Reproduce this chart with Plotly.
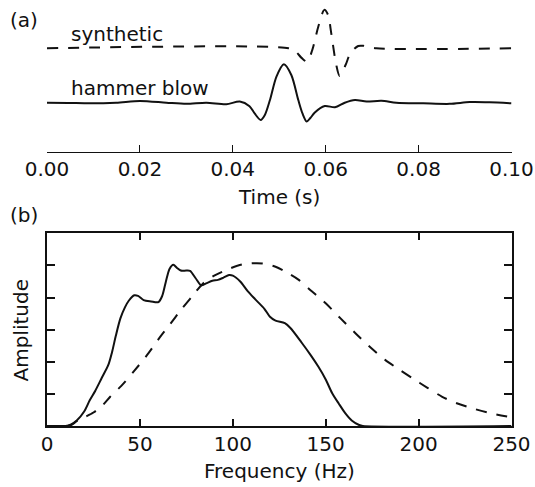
import plotly.graph_objects as go

# ---- data ----
hammer_t = [0, 0.0045, 0.0092, 0.0149, 0.020, 0.0257, 0.030, 0.0343, 0.0386, 0.0415,
            0.0436, 0.0447, 0.0460, 0.0469, 0.0480, 0.0494, 0.0510, 0.0526, 0.0541,
            0.0550, 0.0559, 0.0567, 0.0576, 0.0598, 0.0620, 0.0641, 0.0663, 0.0688,
            0.0720, 0.0752, 0.0810, 0.0867, 0.0910, 0.0953, 0.1]
hammer_a = [0, -0.005, -0.016, 0.0, 0.045, 0.0, -0.03, 0.0, -0.04, 0.03,
            -0.09, -0.28, -0.45, -0.32, 0.07, 0.68, 1.0, 0.72, 0.07,
            -0.28, -0.49, -0.40, -0.26, -0.086, -0.12, 0.0, 0.07, 0.03,
            0.05, 0.0, -0.016, -0.03, 0.015, 0.01, -0.016]

syn_t = [0, 0.052, 0.0535, 0.0548, 0.0560, 0.0571, 0.0584, 0.0597, 0.0605, 0.0612,
         0.0622, 0.0630, 0.0643, 0.0653, 0.0670, 0.0681, 0.0709, 0.1]
syn_a = [0, 0, -0.08, -0.25, -0.35, -0.05, 0.56, 1.0, 0.87, 0.39,
         -0.39, -0.72, -0.43, -0.13, 0.06, 0.065, 0.0, 0.0]
syn_offset = 1.417

spec_f = [0, 5, 10, 13, 16, 20, 23, 26, 29.5, 33, 35, 37, 39.5, 42, 44, 47, 49, 52, 56,
          60, 62, 64, 66, 68, 70, 72, 75, 77, 80, 83, 86, 89, 92, 95, 98, 100, 104,
          108, 112, 117, 120, 123, 128, 131, 137, 142, 146, 150, 153.5, 157, 160.5,
          164, 168, 170, 250]
spec_a = [0, 0, 0, 0.05, 0.17, 0.45, 0.8, 1.1, 1.5, 1.9, 2.3, 2.8, 3.35, 3.7, 3.9, 4.07,
          4.05, 3.92, 3.88, 3.86, 4.05, 4.5, 4.9, 5.02, 4.92, 4.84, 4.84, 4.83, 4.6,
          4.38, 4.45, 4.52, 4.55, 4.62, 4.7, 4.68, 4.5, 4.2, 3.95, 3.65, 3.4, 3.28,
          3.2, 3.05, 2.6, 2.2, 1.85, 1.45, 1.02, 0.7, 0.4, 0.17, 0.03, 0, 0]

synspec_f = [0, 10, 13, 16, 20, 25, 30, 34, 40, 46.6, 54, 61, 66, 72, 78, 84, 90, 98.7,
             105, 113, 118, 123, 129, 135.5, 142, 150, 158, 166, 174, 182, 190, 196.6,
             205, 212.7, 220, 229, 240, 250]
synspec_a = [0, 0, 0.03, 0.15, 0.27, 0.42, 0.65, 0.91, 1.25, 1.69, 2.22, 2.78, 3.15, 3.61,
             4.03, 4.44, 4.68, 4.91, 5.03, 5.07, 5.04, 4.96, 4.78, 4.55, 4.22, 3.82,
             3.35, 2.89, 2.45, 2.06, 1.74, 1.49, 1.18, 0.91, 0.72, 0.55, 0.38, 0.27]

time_ticks = [0, 0.02, 0.04, 0.06, 0.08, 0.10]
time_labels = ["0.00", "0.02", "0.04", "0.06", "0.08", "0.10"]
freq_ticks = [0, 50, 100, 150, 200, 250]
amp_ticks = [1, 2, 3, 4, 5]

# the page body margin is removed by a small post-script, so the figure fills the window
OFF = 0
W, H = 535, 487
FONT = "DejaVu Sans"
FS = 20
INK = "#111111"
DASH = "11px,10px"

fig = go.Figure()
fig.add_trace(go.Scatter(x=syn_t, y=[a + syn_offset for a in syn_a], mode="lines",
                         line=dict(color=INK, width=2, dash=DASH, shape="spline", smoothing=0.8),
                         xaxis="x", yaxis="y", showlegend=False, cliponaxis=False))
fig.add_trace(go.Scatter(x=hammer_t, y=hammer_a, mode="lines",
                         line=dict(color=INK, width=2, shape="spline", smoothing=0.8),
                         xaxis="x", yaxis="y", showlegend=False))
fig.add_trace(go.Scatter(x=spec_f, y=spec_a, mode="lines",
                         line=dict(color=INK, width=2, shape="spline", smoothing=0.8),
                         xaxis="x2", yaxis="y2", showlegend=False))
fig.add_trace(go.Scatter(x=synspec_f, y=synspec_a, mode="lines",
                         line=dict(color=INK, width=2, dash=DASH, shape="spline", smoothing=0.8),
                         xaxis="x2", yaxis="y2", showlegend=False))

def px(x):
    return (x - OFF) / W

def py(y):
    return 1 - (y - OFF) / H

xdom = [px(47.0), px(511.5)]
fig.update_layout(
    width=W, height=H, margin=dict(l=0, r=0, t=0, b=0, autoexpand=False),
    paper_bgcolor="white", plot_bgcolor="white",
    font=dict(family=FONT, size=FS, color=INK),
    xaxis=dict(domain=xdom, anchor="y", range=[0, 0.1], tickvals=time_ticks,
               ticktext=time_labels, ticks="inside", ticklen=7, tickwidth=1.3,
               tickcolor=INK, showline=True, linecolor=INK, linewidth=1.3,
               showgrid=False, zeroline=False, ticklabelstandoff=-1, automargin=False),
    yaxis=dict(domain=[py(152), py(5)], anchor="x", range=[-1.284, 2.544],
               visible=False, automargin=False),
    xaxis2=dict(domain=xdom, anchor="y2", range=[0, 250], tickvals=freq_ticks,
                ticks="inside", ticklen=7, tickwidth=1.5, tickcolor=INK,
                showline=True, linecolor=INK, linewidth=2, mirror="ticks",
                showgrid=False, zeroline=False, ticklabelstandoff=-1, automargin=False),
    yaxis2=dict(domain=[py(426), py(233.3)], anchor="x2", range=[0, 6],
                tickvals=amp_ticks, showticklabels=False, ticks="inside",
                ticklen=8, tickwidth=1.5, tickcolor=INK, showline=True,
                linecolor=INK, linewidth=2, mirror="ticks", showgrid=False,
                zeroline=False, automargin=False),
)

def ann(text, x, y, xanchor="center", yanchor="middle", angle=0):
    fig.add_annotation(text=text, x=px(x), y=py(y), xref="paper", yref="paper",
                       xanchor=xanchor, yanchor=yanchor, showarrow=False,
                       textangle=angle, font=dict(family=FONT, size=FS, color=INK))

ann("(a)", 8, 20, xanchor="left")
ann("(b)", 8, 215, xanchor="left")
ann("synthetic", 69, 34, xanchor="left")
ann("hammer blow", 69, 88, xanchor="left")
ann("Time (s)", 279, 197)
ann("Frequency (Hz)", 279, 471)
ann("Amplitude", 20.5, 330, angle=-90)

fig.write_html(
    "out.html",
    config={"displayModeBar": False},
    post_script="document.body.style.margin='0';document.body.style.overflow='hidden';",
)
